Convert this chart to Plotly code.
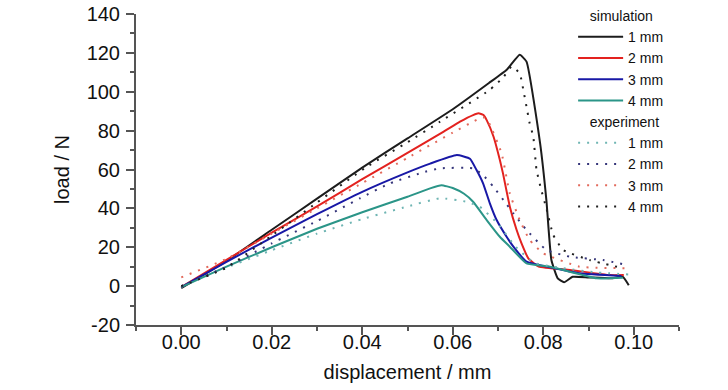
import plotly.graph_objects as go

# ---- data (displacement in mm, load in N) ----
sim_1mm_x = [0.0, 0.01, 0.02, 0.03, 0.04, 0.05, 0.06, 0.068, 0.072, 0.0748, 0.0763, 0.0793, 0.0807, 0.0818, 0.0832, 0.0846, 0.0865, 0.090, 0.095, 0.0976, 0.0989]
sim_1mm_y = [-1.0, 13.0, 29.0, 45.0, 61.0, 76.0, 91.0, 104.5, 111.5, 119.0, 115.5, 73.6, 44.0, 13.4, 4.0, 2.0, 4.8, 4.5, 4.0, 4.8, 0.5]

sim_2mm_x = [0.0, 0.01, 0.02, 0.03, 0.04, 0.05, 0.058, 0.0616, 0.0645, 0.0657, 0.0668, 0.0675, 0.069, 0.0704, 0.0711, 0.0726, 0.0741, 0.0752, 0.0767, 0.079, 0.0859, 0.0947, 0.0978]
sim_2mm_y = [-0.5, 13.5, 27.5, 41.0, 55.0, 68.5, 79.5, 84.6, 88.0, 88.9, 88.0, 85.4, 77.0, 65.0, 58.0, 41.0, 29.0, 22.0, 14.3, 10.0, 8.3, 5.7, 5.7]

sim_3mm_x = [0.0, 0.01, 0.02, 0.03, 0.04, 0.05, 0.055, 0.0609, 0.0638, 0.0652, 0.0667, 0.0682, 0.0697, 0.0719, 0.0734, 0.0763, 0.0815, 0.088, 0.0973]
sim_3mm_y = [-0.5, 12.5, 25.0, 37.0, 48.5, 58.5, 63.0, 67.4, 65.5, 60.0, 52.9, 42.6, 34.0, 25.4, 20.3, 12.6, 9.7, 6.6, 5.2]

sim_4mm_x = [0.0, 0.01, 0.02, 0.03, 0.04, 0.05, 0.055, 0.0575, 0.06, 0.0625, 0.0645, 0.0675, 0.0704, 0.0726, 0.0763, 0.0815, 0.0918, 0.0976]
sim_4mm_y = [-0.5, 10.0, 20.0, 29.5, 38.0, 46.0, 50.3, 51.9, 50.5, 47.5, 43.4, 34.0, 25.4, 20.3, 11.7, 10.0, 4.0, 4.3]

exp_1mm_x = [0.0, 0.01, 0.02, 0.03, 0.04, 0.05, 0.0572, 0.0631, 0.066, 0.070, 0.074, 0.078, 0.085, 0.092, 0.099]
exp_1mm_y = [0.0, 9.5, 18.5, 27.0, 34.5, 41.0, 45.2, 43.4, 40.8, 32.0, 20.0, 12.0, 9.0, 7.0, 6.0]

exp_2mm_x = [0.0, 0.01, 0.02, 0.03, 0.0395, 0.0461, 0.0539, 0.0572, 0.0645, 0.0667, 0.069, 0.0712, 0.0734, 0.0763, 0.0807, 0.0859, 0.0932, 0.0984]
exp_2mm_y = [0.0, 10.0, 22.0, 33.5, 45.2, 52.9, 58.8, 60.6, 60.6, 57.1, 51.1, 44.3, 37.4, 28.9, 18.6, 15.1, 13.4, 10.9]

exp_3mm_x = [0.0, 0.01, 0.02, 0.03, 0.04, 0.05, 0.06, 0.064, 0.0667, 0.068, 0.0708, 0.0726, 0.0748, 0.077, 0.080, 0.088, 0.099]
exp_3mm_y = [4.5, 14.0, 27.0, 40.0, 53.0, 66.0, 79.0, 84.0, 87.0, 84.0, 68.3, 47.7, 34.0, 23.7, 16.9, 10.0, 9.2]

exp_4mm_x = [0.0, 0.01, 0.02, 0.03, 0.041, 0.05, 0.0572, 0.0682, 0.0712, 0.073, 0.0748, 0.0756, 0.0763, 0.077, 0.0778, 0.0785, 0.0795, 0.0807, 0.0822, 0.0844, 0.0903, 0.0976]
exp_4mm_y = [0.0, 9.5, 26.0, 43.0, 61.4, 74.0, 84.6, 101.0, 107.5, 113.0, 109.5, 100.9, 92.3, 83.7, 76.9, 60.0, 50.0, 40.0, 26.3, 18.6, 13.4, 9.2]

sim_labels = ["1 mm", "2 mm", "3 mm", "4 mm"]
exp_labels = ["1 mm", "2 mm", "3 mm", "4 mm"]
x_ticks = [0.00, 0.02, 0.04, 0.06, 0.08, 0.10]
x_tick_text = ["0.00", "0.02", "0.04", "0.06", "0.08", "0.10"]
y_ticks = [-20, 0, 20, 40, 60, 80, 100, 120, 140]
y_tick_text = ["-20", "0", "20", "40", "60", "80", "100", "120", "140"]

sim_colors = ["#1c1c1c", "#e3221f", "#1818a6", "#2b9588"]
exp_colors = ["#6fb5b3", "#35357a", "#e26a5c", "#202020"]

FONT = "Liberation Sans, Arial, sans-serif"
LEG_FS = 14
PAD = "\u00a0\u00a0\u00a0"

fig = go.Figure()

sim_series = [(sim_1mm_x, sim_1mm_y), (sim_2mm_x, sim_2mm_y), (sim_3mm_x, sim_3mm_y), (sim_4mm_x, sim_4mm_y)]
exp_series = [(exp_1mm_x, exp_1mm_y), (exp_2mm_x, exp_2mm_y), (exp_3mm_x, exp_3mm_y), (exp_4mm_x, exp_4mm_y)]

for i, ((xs, ys), lab) in enumerate(zip(sim_series, sim_labels)):
    fig.add_trace(go.Scatter(
        x=xs, y=ys, mode="lines", name=lab,
        line=dict(color=sim_colors[i], width=2, shape="spline", smoothing=0.4),
        legendgroup="sim",
        legendgrouptitle=dict(text=PAD + "simulation", font=dict(size=LEG_FS, color="#111", family=FONT)),
    ))

for i, ((xs, ys), lab) in enumerate(zip(exp_series, exp_labels)):
    fig.add_trace(go.Scatter(
        x=xs, y=ys, mode="lines", name=lab,
        line=dict(color=exp_colors[i], width=2, dash="2px,7px", shape="spline", smoothing=0.4),
        legendgroup="exp",
        legendgrouptitle=dict(text=PAD + "experiment", font=dict(size=LEG_FS, color="#111", family=FONT)),
    ))

axis_common = dict(
    showgrid=False, zeroline=False, showline=True, linecolor="#555", linewidth=2,
    ticks="outside", ticklen=8, tickwidth=1.5, tickcolor="#555",
    tickfont=dict(size=20, color="#111", family=FONT),
    mirror=False, automargin=False,
)

fig.update_xaxes(
    range=[-0.01, 0.11], tickvals=x_ticks, ticktext=x_tick_text,
    minor=dict(dtick=0.01, tick0=0, ticks="outside", ticklen=4, tickcolor="#555"),
    ticklabelstandoff=-10,
    title=dict(text="displacement / mm", font=dict(size=20, color="#111", family=FONT), standoff=13),
    **axis_common,
)
fig.update_yaxes(
    range=[-20, 140], tickvals=y_ticks, ticktext=y_tick_text,
    minor=dict(dtick=10, tick0=0, ticks="outside", ticklen=4, tickcolor="#555"),
    ticklabelstandoff=2,
    title=dict(text="load / N", font=dict(size=20, color="#111", family=FONT), standoff=12),
    **axis_common,
)

fig.update_layout(
    width=728, height=390,
    margin=dict(l=136, r=49, t=14, b=65, autoexpand=False),
    paper_bgcolor="white", plot_bgcolor="white",
    font=dict(family=FONT, color="#111"),
    showlegend=True,
    hovermode=False,
    legend=dict(
        x=0.805, y=1.0, xanchor="left", yanchor="top",
        xref="paper", yref="container",
        bgcolor="rgba(255,255,255,0)", borderwidth=0,
        font=dict(size=LEG_FS, color="#111", family=FONT),
        traceorder="grouped", tracegroupgap=0, itemwidth=45,
        maxheight=380,
    ),
)

fig.write_html("out.html", config={"displayModeBar": False, "staticPlot": False},
               post_script="document.body.style.margin='0px';")
